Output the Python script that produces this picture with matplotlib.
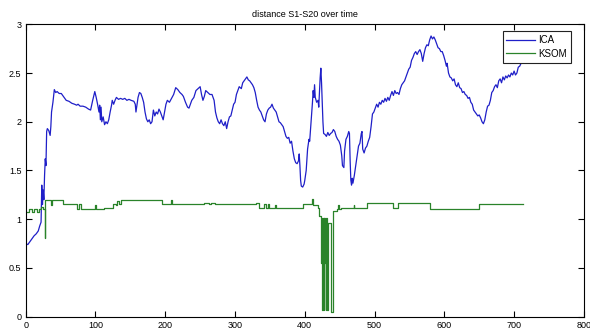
import matplotlib
matplotlib.use("Agg")
import matplotlib.pyplot as plt

plt.rcParams['font.family'] = ['Liberation Sans', 'DejaVu Sans']

# ICA distance (time, distance)
ica_t = [0, 3, 6, 9, 12, 15, 18, 20, 22, 23, 24, 25, 26, 27, 28, 29, 30, 31, 33, 35,
         36, 37, 39, 41, 43, 45, 48, 51, 54, 58, 62, 66, 70, 73, 75, 78, 82, 86, 90, 93,
         96, 99, 101, 103, 105, 106, 107, 108, 109, 111, 113, 115, 117, 119, 121, 123, 124, 126, 128, 130,
         133, 136, 139, 142, 145, 148, 151, 155, 157, 158, 159, 161, 163, 165, 167, 169, 171, 173, 175, 177,
         179, 181, 183, 185, 187, 189, 191, 193, 195, 197, 199, 201, 203, 206, 209, 212, 215, 218, 221, 224,
         226, 229, 232, 234, 236, 238, 241, 244, 247, 250, 252, 254, 256, 258, 261, 264, 267, 270, 272, 274,
         276, 278, 280, 282, 284, 286, 288, 290, 292, 294, 296, 298, 300, 302, 304, 306, 309, 311, 313, 315,
         317, 319, 321, 323, 325, 327, 329, 331, 333, 335, 337, 339, 341, 343, 345, 347, 349, 351, 353, 355,
         357, 359, 361, 363, 365, 367, 369, 371, 373, 375, 377, 379, 381, 383, 385, 387, 389, 391, 392, 393,
         394, 395, 397, 399, 400, 402, 404, 406, 407, 409, 411, 412, 413, 414, 415, 417, 419, 420, 421, 422,
         423, 424, 425, 426, 427, 429, 431, 433, 435, 437, 439, 441, 443, 445, 447, 449, 451, 453, 454, 456,
         457, 459, 461, 463, 464, 465, 466, 467, 468, 469, 471, 473, 475, 477, 479, 481, 482, 483, 485, 487,
         489, 491, 493, 495, 497, 499, 501, 503, 505, 507, 509, 511, 513, 515, 517, 519, 521, 523, 525, 527,
         529, 531, 533, 535, 537, 539, 541, 543, 545, 547, 549, 551, 553, 555, 557, 559, 561, 563, 565, 567,
         569, 571, 573, 575, 577, 579, 581, 583, 585, 587, 589, 591, 593, 595, 597, 599, 601, 603, 604, 606,
         608, 610, 612, 614, 616, 618, 620, 622, 624, 626, 628, 630, 632, 634, 636, 638, 640, 642, 644, 646,
         648, 650, 652, 654, 656, 658, 660, 662, 664, 666, 668, 670, 672, 674, 676, 678, 680, 682, 684, 686,
         688, 690, 692, 694, 696, 698, 700, 702, 704, 706, 708, 710, 712, 714, 716]
ica_d = [0.75, 0.74, 0.77, 0.80, 0.83, 0.85, 0.88, 0.93, 0.97, 1.35, 1.15, 1.30, 1.20, 1.45, 1.62, 1.55, 1.90, 1.93, 1.91, 1.86,
         1.95, 2.10, 2.20, 2.33, 2.30, 2.31, 2.29, 2.29, 2.26, 2.22, 2.21, 2.19, 2.18, 2.17, 2.18, 2.16, 2.16, 2.15, 2.13, 2.12,
         2.22, 2.31, 2.25, 2.18, 2.10, 2.17, 2.02, 2.15, 2.00, 2.05, 1.97, 2.00, 1.98, 2.02, 2.10, 2.17, 2.22, 2.18, 2.22, 2.25,
         2.23, 2.24, 2.23, 2.24, 2.22, 2.23, 2.22, 2.21, 2.18, 2.10, 2.15, 2.25, 2.30, 2.29, 2.25, 2.20, 2.10, 2.03, 2.00, 2.02,
         1.98, 2.00, 2.12, 2.06, 2.10, 2.08, 2.13, 2.10, 2.06, 2.02, 2.10, 2.18, 2.22, 2.20, 2.24, 2.28, 2.35, 2.33, 2.30, 2.28,
         2.26, 2.20, 2.15, 2.14, 2.18, 2.22, 2.25, 2.32, 2.34, 2.36, 2.28, 2.22, 2.26, 2.32, 2.30, 2.28, 2.28, 2.22, 2.10, 2.04,
         2.00, 1.98, 2.02, 1.98, 1.96, 2.00, 1.93, 2.00, 2.05, 2.06, 2.12, 2.18, 2.20, 2.28, 2.32, 2.36, 2.34, 2.40, 2.42, 2.44,
         2.46, 2.43, 2.42, 2.40, 2.38, 2.35, 2.30, 2.22, 2.15, 2.12, 2.10, 2.06, 2.02, 2.00, 2.08, 2.12, 2.14, 2.15, 2.18, 2.14,
         2.12, 2.10, 2.05, 2.00, 1.99, 1.97, 1.95, 1.90, 1.85, 1.83, 1.84, 1.78, 1.80, 1.70, 1.62, 1.58, 1.57, 1.60, 1.67, 1.55,
         1.40, 1.34, 1.33, 1.36, 1.40, 1.50, 1.72, 1.82, 1.80, 2.00, 2.20, 2.32, 2.25, 2.38, 2.25, 2.20, 2.22, 2.15, 2.30, 2.45,
         2.55, 2.40, 2.20, 2.00, 1.88, 1.87, 1.85, 1.89, 1.86, 1.88, 1.89, 1.92, 1.90, 1.85, 1.82, 1.80, 1.76, 1.65, 1.55, 1.53,
         1.70, 1.82, 1.85, 1.90, 1.88, 1.60, 1.40, 1.35, 1.42, 1.37, 1.45, 1.55, 1.65, 1.75, 1.78, 1.88, 1.90, 1.72, 1.68, 1.73,
         1.75, 1.80, 1.84, 1.95, 2.08, 2.10, 2.14, 2.18, 2.15, 2.20, 2.18, 2.22, 2.20, 2.24, 2.21, 2.25, 2.22, 2.27, 2.31, 2.27,
         2.32, 2.29, 2.30, 2.28, 2.34, 2.38, 2.40, 2.42, 2.46, 2.50, 2.54, 2.56, 2.63, 2.66, 2.70, 2.72, 2.69, 2.72, 2.74, 2.70,
         2.62, 2.70, 2.76, 2.79, 2.78, 2.84, 2.88, 2.85, 2.87, 2.84, 2.80, 2.76, 2.75, 2.72, 2.72, 2.68, 2.63, 2.57, 2.60, 2.50,
         2.46, 2.45, 2.42, 2.44, 2.38, 2.36, 2.40, 2.35, 2.34, 2.30, 2.31, 2.28, 2.27, 2.24, 2.25, 2.20, 2.18, 2.12, 2.10, 2.08,
         2.06, 2.07, 2.04, 2.00, 1.98, 2.02, 2.10, 2.16, 2.17, 2.22, 2.30, 2.32, 2.36, 2.38, 2.35, 2.42, 2.44, 2.40, 2.46, 2.43,
         2.47, 2.45, 2.48, 2.46, 2.50, 2.48, 2.52, 2.48, 2.50, 2.56, 2.57, 2.60, 2.62, 2.64, 2.65]

# KSOM distance: level changes (time where the level starts, distance)
ksom_t = [0, 4, 9, 12, 16, 19, 22, 25, 27, 28, 36, 38, 53, 73, 76, 79, 100, 101, 112, 125,
          129, 131, 133, 136, 196, 208, 209, 255, 262, 265, 272, 330, 335, 341, 345, 347, 349, 358, 359, 398,
          411, 412, 419, 421, 423, 424, 425, 426, 427, 428, 429, 430, 431, 432, 433, 437, 441, 446, 448, 449,
          452, 470, 471, 489, 527, 533, 579, 604, 633, 650, 713]
ksom_d = [1.07, 1.10, 1.07, 1.10, 1.07, 1.10, 1.13, 1.10, 0.81, 1.20, 1.15, 1.20, 1.16, 1.10, 1.16, 1.10, 1.15, 1.10, 1.12, 1.16,
          1.15, 1.19, 1.16, 1.20, 1.16, 1.20, 1.16, 1.17, 1.16, 1.17, 1.16, 1.17, 1.12, 1.16, 1.12, 1.16, 1.12, 1.15, 1.12, 1.16,
          1.21, 1.15, 1.12, 1.03, 0.55, 1.01, 0.07, 1.01, 0.07, 1.01, 0.55, 0.07, 1.01, 0.07, 0.96, 0.05, 1.08, 1.10, 1.15, 1.10,
          1.12, 1.15, 1.12, 1.17, 1.12, 1.17, 1.11, 1.10, 1.11, 1.16, 1.16]

fig = plt.figure(figsize=(5.9, 3.33), dpi=100)
ax = fig.add_axes([0.0436, 0.049, 0.946, 0.878])

ax.plot(ica_t, ica_d, color='#1f1fc8', linewidth=0.9, label='ICA')
ax.plot(ksom_t, ksom_d, color='#2a832a', linewidth=0.9, drawstyle='steps-post', label='KSOM')

ax.set_xlim(0, 800)
ax.set_ylim(0, 3)
ax.set_xticks(range(0, 801, 100))
ax.set_yticks([0, 0.5, 1, 1.5, 2, 2.5, 3])
ax.set_yticklabels(['0', '0.5', '1', '1.5', '2', '2.5', '3'])
ax.tick_params(direction='in', top=True, right=True, length=4, width=0.8,
               labelsize=6.5, pad=3)
for s in ax.spines.values():
    s.set_linewidth(0.8)

ax.set_title('distance S1-S20 over time', fontsize=6.5, pad=5)

# legend box placed like the original (top right, a little inset)
leg = ax.legend(loc='upper right', bbox_to_anchor=(0.977, 0.977), borderaxespad=0,
                fontsize=7, fancybox=False, framealpha=1, edgecolor='#222222',
                handlelength=2.9, handletextpad=0.4, borderpad=0.4, labelspacing=0.4)
leg.get_frame().set_linewidth(0.8)

fig.savefig('out.png', dpi=100)
